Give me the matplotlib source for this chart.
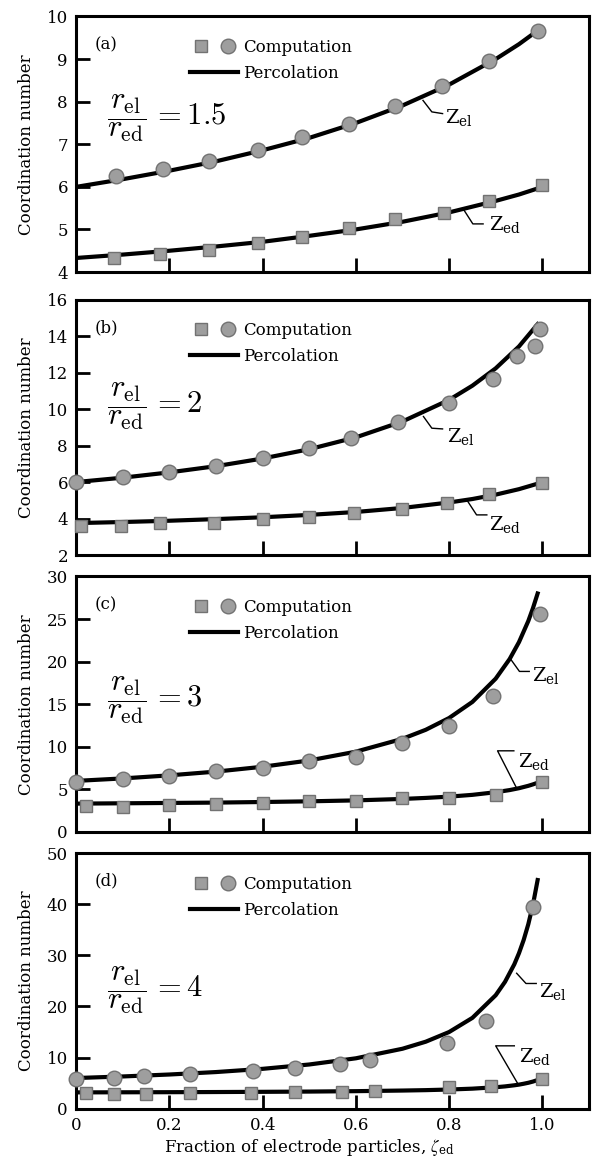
import matplotlib
matplotlib.use("Agg")
import matplotlib.pyplot as plt
from matplotlib.legend_handler import HandlerTuple
from matplotlib.lines import Line2D

plt.rcParams['font.family'] = ['DejaVu Serif']
plt.rcParams['mathtext.fontset'] = 'stix'

FACE = '#9e9e9e'
EDGE = '#727272'

# (a) r_el / r_ed = 1.5
a_el_x = [0.085, 0.185, 0.285, 0.39, 0.485, 0.585, 0.685, 0.785, 0.885, 0.99]
a_el_y = [6.25, 6.41, 6.60, 6.86, 7.16, 7.47, 7.91, 8.36, 8.95, 9.67]
a_ed_x = [0.08, 0.18, 0.285, 0.39, 0.485, 0.585, 0.685, 0.79, 0.885, 1.0]
a_ed_y = [4.33, 4.42, 4.52, 4.68, 4.82, 5.03, 5.24, 5.39, 5.66, 6.04]
a_curve_x = [0.0, 0.1, 0.2, 0.3, 0.4, 0.5, 0.6, 0.7, 0.8, 0.9, 0.95, 0.995]
a_curve_el = [6.00, 6.18, 6.38, 6.60, 6.86, 7.15, 7.50, 7.91, 8.40, 9.00, 9.35, 9.71]
a_curve_ed = [4.33, 4.41, 4.50, 4.60, 4.71, 4.85, 5.00, 5.18, 5.40, 5.67, 5.82, 5.98]

# (b) r_el / r_ed = 2
b_el_x = [0.0, 0.1, 0.2, 0.3, 0.4, 0.5, 0.59, 0.69, 0.8, 0.895, 0.945, 0.985, 0.995]
b_el_y = [6.0, 6.28, 6.57, 6.9, 7.31, 7.89, 8.41, 9.27, 10.33, 11.66, 12.93, 13.44, 14.39]
b_ed_x = [0.01, 0.095, 0.18, 0.295, 0.4, 0.5, 0.595, 0.7, 0.795, 0.885, 1.0]
b_ed_y = [3.61, 3.61, 3.74, 3.74, 3.96, 4.10, 4.32, 4.53, 4.84, 5.35, 5.94]
b_curve_x = [0.0, 0.1, 0.2, 0.3, 0.4, 0.5, 0.6, 0.7, 0.8, 0.85, 0.9, 0.95, 0.99]
b_curve_el = [6.00, 6.24, 6.53, 6.87, 7.29, 7.80, 8.45, 9.32, 10.50, 11.28, 12.23, 13.43, 14.65]
b_curve_ed = [3.75, 3.81, 3.88, 3.97, 4.07, 4.20, 4.36, 4.58, 4.88, 5.07, 5.31, 5.61, 5.91]

# (c) r_el / r_ed = 3
c_el_x = [0.0, 0.1, 0.2, 0.3, 0.4, 0.5, 0.6, 0.7, 0.8, 0.895, 0.995]
c_el_y = [5.92, 6.24, 6.63, 7.18, 7.57, 8.35, 8.86, 10.43, 12.47, 15.92, 25.6]
c_ed_x = [0.02, 0.1, 0.2, 0.3, 0.4, 0.5, 0.6, 0.7, 0.8, 0.9, 1.0]
c_ed_y = [3.06, 2.98, 3.18, 3.25, 3.37, 3.69, 3.69, 3.96, 4.04, 4.35, 5.92]
c_curve_x = [0.0, 0.1, 0.2, 0.3, 0.4, 0.5, 0.6, 0.7, 0.75, 0.8, 0.85, 0.9, 0.93, 0.95, 0.97,
             0.98, 0.99]
c_curve_el = [6.00, 6.29, 6.65, 7.09, 7.66, 8.40, 9.43, 10.94, 12.00, 13.38, 15.27, 18.00,
              20.31, 22.29, 24.77, 26.28, 28.00]
c_curve_ed = [3.33, 3.37, 3.41, 3.45, 3.52, 3.60, 3.71, 3.88, 4.00, 4.15, 4.36, 4.67, 4.92,
              5.14, 5.42, 5.59, 5.78]

# (d) r_el / r_ed = 4
d_el_x = [0.0, 0.08, 0.145, 0.245, 0.38, 0.47, 0.565, 0.63, 0.795, 0.88, 0.98]
d_el_y = [5.8, 6.07, 6.46, 6.79, 7.37, 8.02, 8.69, 9.53, 12.92, 17.22, 39.4]
d_ed_x = [0.02, 0.08, 0.15, 0.245, 0.375, 0.47, 0.57, 0.64, 0.8, 0.89, 1.0]
d_ed_y = [3.0, 2.87, 2.87, 3.0, 3.13, 3.2, 3.33, 3.52, 4.19, 4.5, 5.81]
d_curve_x = [0.0, 0.1, 0.2, 0.3, 0.4, 0.5, 0.6, 0.7, 0.75, 0.8, 0.85, 0.9, 0.92, 0.94, 0.95,
             0.96, 0.97, 0.98, 0.99]
d_curve_el = [6.00, 6.31, 6.69, 7.17, 7.80, 8.65, 9.86, 11.73, 13.11, 15.00, 17.77, 22.20,
              24.82, 28.26, 30.43, 33.00, 36.10, 39.92, 44.74]
d_curve_ed = [3.19, 3.21, 3.23, 3.26, 3.30, 3.35, 3.43, 3.55, 3.63, 3.75, 3.92, 4.20, 4.36,
              4.58, 4.71, 4.88, 5.07, 5.31, 5.61]

panel_tags = ['(a)', '(b)', '(c)', '(d)']
ratio_text = ['1.5', '2', '3', '4']
y_limits = [(4, 10), (2, 16), (0, 30), (0, 50)]
y_ticks = [range(4, 11, 1), range(2, 17, 2), range(0, 31, 5), range(0, 51, 10)]
x_ticks = [0, 0.2, 0.4, 0.6, 0.8, 1.0]
x_tick_labels = ['0', '0.2', '0.4', '0.6', '0.8', '1.0']

# leader lines (curve point, elbow, end) and label anchor for Z_el / Z_ed
el_leaders = [[(0.744, 8.03), (0.763, 7.76), (0.786, 7.72)],
              [(0.745, 9.59), (0.763, 8.95), (0.786, 8.91)],
              [(0.932, 20.3), (0.951, 18.85), (0.972, 18.85)],
              [(0.945, 26.5), (0.965, 24.5), (0.987, 24.5)]]
el_label_pos = [(0.792, 7.49), (0.795, 8.19), (0.977, 17.7), (0.992, 21.9)]
ed_leaders = [[(0.831, 5.47), (0.851, 5.13), (0.873, 5.13)],
              [(0.838, 5.02), (0.859, 4.20), (0.881, 4.20)],
              [(0.945, 5.14), (0.904, 9.53), (0.939, 9.53)],
              [(0.947, 4.97), (0.900, 12.3), (0.940, 12.3)]]
ed_label_pos = [(0.886, 4.98), (0.886, 3.37), (0.948, 7.68), (0.950, 9.2)]
ratio_y = [0.604, 0.585, 0.518, 0.463]

panels = [
    (a_el_x, a_el_y, a_ed_x, a_ed_y, a_curve_x, a_curve_el, a_curve_ed),
    (b_el_x, b_el_y, b_ed_x, b_ed_y, b_curve_x, b_curve_el, b_curve_ed),
    (c_el_x, c_el_y, c_ed_x, c_ed_y, c_curve_x, c_curve_el, c_curve_ed),
    (d_el_x, d_el_y, d_ed_x, d_ed_y, d_curve_x, d_curve_el, d_curve_ed),
]

fig = plt.figure(figsize=(5.97, 11.70), dpi=100)
left, width = 0.1278, 0.8586
bottoms = [0.7675, 0.5256, 0.2889, 0.0524]
height = 0.2184

for i, (el_x, el_y, ed_x, ed_y, cx, c_el, c_ed) in enumerate(panels):
    ax = fig.add_axes([left, bottoms[i], width, height])

    ax.plot(cx, c_el, color='black', lw=3, zorder=2)
    ax.plot(cx, c_ed, color='black', lw=3, zorder=2)
    ax.plot(el_x, el_y, 'o', ms=10.5, mfc=FACE, mec=EDGE, mew=1, clip_on=False, zorder=4)
    ax.plot(ed_x, ed_y, 's', ms=9, mfc=FACE, mec=EDGE, mew=1, clip_on=False, zorder=4)

    ax.set_xlim(0, 1.1)
    ax.set_ylim(*y_limits[i])
    ax.set_xticks(x_ticks)
    ax.set_yticks(list(y_ticks[i]))
    if i == 3:
        ax.set_xticklabels(x_tick_labels)
        ax.set_xlabel(r'Fraction of electrode particles, $\zeta_{\mathregular{ed}}$', fontsize=12)
        ax.xaxis.set_label_coords(0.5 / 1.1, -0.112)
    else:
        ax.set_xticklabels([])
    ax.tick_params(direction='in', length=10, width=2, top=False, right=False,
                   labelsize=12, pad=6)
    for sp in ax.spines.values():
        sp.set_linewidth(2.2)
    ax.set_ylabel('Coordination number', fontsize=12)
    ax.yaxis.set_label_coords(-0.08, 0.5)

    ax.text(0.035, 0.89, panel_tags[i], transform=ax.transAxes, fontsize=12, va='center')
    ax.text(0.06, ratio_y[i], r'$\dfrac{r_{\rm el}}{r_{\rm ed}}\,= %s$' % ratio_text[i],
            transform=ax.transAxes, fontsize=22, va='center', ha='left', math_fontfamily='cm')

    for pts, pos, sub in ((el_leaders[i], el_label_pos[i], 'el'),
                          (ed_leaders[i], ed_label_pos[i], 'ed')):
        ax.plot([p[0] for p in pts], [p[1] for p in pts], color='black', lw=1, zorder=3)
        ax.text(pos[0], pos[1], r'$\mathregular{Z_{%s}}$' % sub, fontsize=14,
                va='baseline', ha='left')

    sq = Line2D([], [], ls='none', marker='s', ms=9, mfc=FACE, mec=EDGE, mew=1)
    ci = Line2D([], [], ls='none', marker='o', ms=10.5, mfc=FACE, mec=EDGE, mew=1)
    ln = Line2D([], [], color='black', lw=3)
    ax.legend([(sq, ci), ln], ['Computation', 'Percolation'],
              handler_map={tuple: HandlerTuple(ndivide=None, pad=0.3)},
              loc='upper left', bbox_to_anchor=(0.222, 0.912), frameon=False,
              fontsize=12, handlelength=2.9, handletextpad=0.3, labelspacing=0.55,
              borderaxespad=0, borderpad=0)

fig.savefig('out.png', dpi=100)
